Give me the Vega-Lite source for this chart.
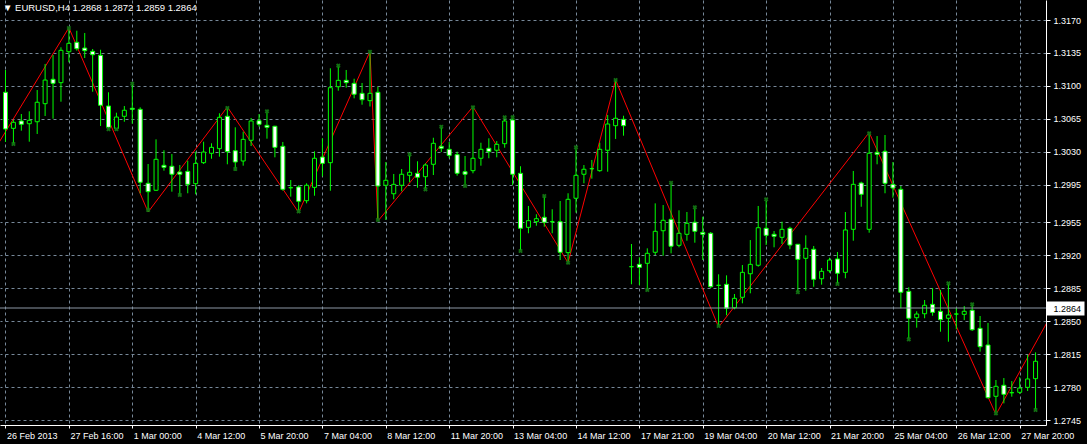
{
  "$schema": "https://vega.github.io/schema/vega-lite/v6.json",
  "width": 1046,
  "height": 425,
  "autosize": {"type": "none"},
  "padding": {"left": 0, "top": 0, "right": 41, "bottom": 19},
  "background": "#000000",
  "config": {"view": {"stroke": null}, "font": "Liberation Sans"},
  "title": {"text": "▼ EURUSD,H4  1.2868 1.2872 1.2859 1.2864", "anchor": "start", "frame": "group", "orient": "top", "offset": -12, "dx": 3, "fontSize": 9.5, "fontWeight": "normal", "color": "#ffffff", "font": "Liberation Sans"},
  "datasets": {
    "candles": [
      {"bar":0,"open":1.30932,"high":1.31169,"low":1.30404,"close":1.30542},
      {"bar":1,"open":1.30549,"high":1.30638,"low":1.30372,"close":1.30613},
      {"bar":2,"open":1.30627,"high":1.30701,"low":1.30524,"close":1.30592},
      {"bar":3,"open":1.30598,"high":1.30730,"low":1.30407,"close":1.30634},
      {"bar":4,"open":1.30619,"high":1.30956,"low":1.30489,"close":1.30826},
      {"bar":5,"open":1.30811,"high":1.31233,"low":1.30680,"close":1.31062},
      {"bar":6,"open":1.31070,"high":1.31328,"low":1.30651,"close":1.31027},
      {"bar":7,"open":1.31034,"high":1.31410,"low":1.30832,"close":1.31378},
      {"bar":8,"open":1.31363,"high":1.31618,"low":1.31251,"close":1.31452},
      {"bar":9,"open":1.31463,"high":1.31586,"low":1.31374,"close":1.31395},
      {"bar":10,"open":1.31402,"high":1.31562,"low":1.31296,"close":1.31374},
      {"bar":11,"open":1.31367,"high":1.31392,"low":1.30938,"close":1.31331},
      {"bar":12,"open":1.31325,"high":1.31384,"low":1.30574,"close":1.30794},
      {"bar":13,"open":1.30786,"high":1.30932,"low":1.30539,"close":1.30560},
      {"bar":14,"open":1.30545,"high":1.30715,"low":1.30528,"close":1.30669},
      {"bar":15,"open":1.30677,"high":1.30786,"low":1.30619,"close":1.30741},
      {"bar":16,"open":1.30762,"high":1.31041,"low":1.30598,"close":1.30751},
      {"bar":17,"open":1.30751,"high":1.30772,"low":1.29859,"close":1.29976},
      {"bar":18,"open":1.29965,"high":1.30170,"low":1.29660,"close":1.29876},
      {"bar":19,"open":1.29891,"high":1.30432,"low":1.29883,"close":1.30220},
      {"bar":20,"open":1.30156,"high":1.30316,"low":1.30099,"close":1.30135},
      {"bar":21,"open":1.30146,"high":1.30276,"low":1.29876,"close":1.30061},
      {"bar":22,"open":1.30085,"high":1.30159,"low":1.29841,"close":1.30061},
      {"bar":23,"open":1.30092,"high":1.30205,"low":1.29859,"close":1.29954},
      {"bar":24,"open":1.29961,"high":1.30301,"low":1.29848,"close":1.30177},
      {"bar":25,"open":1.30184,"high":1.30407,"low":1.30170,"close":1.30297},
      {"bar":26,"open":1.30284,"high":1.30390,"low":1.30226,"close":1.30347},
      {"bar":27,"open":1.30333,"high":1.30709,"low":1.30248,"close":1.30666},
      {"bar":28,"open":1.30677,"high":1.30776,"low":1.30167,"close":1.30301},
      {"bar":29,"open":1.30311,"high":1.30560,"low":1.30099,"close":1.30191},
      {"bar":30,"open":1.30202,"high":1.30513,"low":1.30152,"close":1.30432},
      {"bar":31,"open":1.30422,"high":1.30659,"low":1.30361,"close":1.30627},
      {"bar":32,"open":1.30630,"high":1.30701,"low":1.30566,"close":1.30592},
      {"bar":33,"open":1.30581,"high":1.30722,"low":1.30439,"close":1.30560},
      {"bar":34,"open":1.30571,"high":1.30576,"low":1.30241,"close":1.30347},
      {"bar":35,"open":1.30358,"high":1.30404,"low":1.29886,"close":1.29901},
      {"bar":36,"open":1.29918,"high":1.30000,"low":1.29823,"close":1.29918},
      {"bar":37,"open":1.29926,"high":1.29944,"low":1.29655,"close":1.29774},
      {"bar":38,"open":1.29780,"high":1.29965,"low":1.29752,"close":1.29944},
      {"bar":39,"open":1.29922,"high":1.30305,"low":1.29833,"close":1.30231},
      {"bar":40,"open":1.30244,"high":1.30443,"low":1.30039,"close":1.30177},
      {"bar":41,"open":1.30184,"high":1.31187,"low":1.29886,"close":1.30981},
      {"bar":42,"open":1.30991,"high":1.31204,"low":1.30949,"close":1.31059},
      {"bar":43,"open":1.31059,"high":1.31169,"low":1.30981,"close":1.31034},
      {"bar":44,"open":1.31027,"high":1.31076,"low":1.30868,"close":1.30911},
      {"bar":45,"open":1.30921,"high":1.31031,"low":1.30800,"close":1.30853},
      {"bar":46,"open":1.30843,"high":1.31365,"low":1.30781,"close":1.30921},
      {"bar":47,"open":1.30932,"high":1.30991,"low":1.29564,"close":1.29936},
      {"bar":48,"open":1.29944,"high":1.30191,"low":1.29575,"close":1.29997},
      {"bar":49,"open":1.29854,"high":1.30064,"low":1.29795,"close":1.29954},
      {"bar":50,"open":1.29944,"high":1.30117,"low":1.29880,"close":1.30061},
      {"bar":51,"open":1.30050,"high":1.30279,"low":1.29976,"close":1.30082},
      {"bar":52,"open":1.30071,"high":1.30199,"low":1.29918,"close":1.30029},
      {"bar":53,"open":1.30035,"high":1.30177,"low":1.29894,"close":1.30159},
      {"bar":54,"open":1.30167,"high":1.30449,"low":1.30053,"close":1.30390},
      {"bar":55,"open":1.30358,"high":1.30577,"low":1.30297,"close":1.30337},
      {"bar":56,"open":1.30326,"high":1.30404,"low":1.30231,"close":1.30262},
      {"bar":57,"open":1.30269,"high":1.30301,"low":1.30046,"close":1.30071},
      {"bar":58,"open":1.30088,"high":1.30255,"low":1.29929,"close":1.30061},
      {"bar":59,"open":1.30099,"high":1.30779,"low":1.30071,"close":1.30231},
      {"bar":60,"open":1.30231,"high":1.30396,"low":1.30152,"close":1.30326},
      {"bar":61,"open":1.30337,"high":1.30443,"low":1.30231,"close":1.30301},
      {"bar":62,"open":1.30316,"high":1.30414,"low":1.30241,"close":1.30379},
      {"bar":63,"open":1.30386,"high":1.30673,"low":1.30343,"close":1.30627},
      {"bar":64,"open":1.30638,"high":1.30683,"low":1.29947,"close":1.30061},
      {"bar":65,"open":1.30071,"high":1.30146,"low":1.29238,"close":1.29487},
      {"bar":66,"open":1.29497,"high":1.29724,"low":1.29434,"close":1.29568},
      {"bar":67,"open":1.29557,"high":1.29636,"low":1.29514,"close":1.29589},
      {"bar":68,"open":1.29604,"high":1.29823,"low":1.29504,"close":1.29551},
      {"bar":69,"open":1.29557,"high":1.29689,"low":1.29434,"close":1.29557},
      {"bar":70,"open":1.29557,"high":1.29777,"low":1.29150,"close":1.29232},
      {"bar":71,"open":1.29228,"high":1.29859,"low":1.29121,"close":1.29795},
      {"bar":72,"open":1.29806,"high":1.30354,"low":1.29653,"close":1.30050},
      {"bar":73,"open":1.30061,"high":1.30159,"low":1.29965,"close":1.30114},
      {"bar":74,"open":1.30120,"high":1.30213,"low":1.30014,"close":1.30120},
      {"bar":75,"open":1.30099,"high":1.30396,"low":1.30088,"close":1.30326},
      {"bar":76,"open":1.30316,"high":1.30691,"low":1.30088,"close":1.30595},
      {"bar":77,"open":1.30577,"high":1.31063,"low":1.30436,"close":1.30656},
      {"bar":78,"open":1.30645,"high":1.30683,"low":1.30471,"close":1.30577},
      {"bar":79,"open":1.29079,"high":1.29320,"low":1.28892,"close":1.29079},
      {"bar":80,"open":1.29104,"high":1.29179,"low":1.28884,"close":1.29072},
      {"bar":81,"open":1.29115,"high":1.29274,"low":1.28831,"close":1.29221},
      {"bar":82,"open":1.29232,"high":1.29752,"low":1.29203,"close":1.29455},
      {"bar":83,"open":1.29461,"high":1.29734,"low":1.29196,"close":1.29572},
      {"bar":84,"open":1.29582,"high":1.29979,"low":1.29221,"close":1.29296},
      {"bar":85,"open":1.29306,"high":1.29678,"low":1.29285,"close":1.29434},
      {"bar":86,"open":1.29423,"high":1.29660,"low":1.29355,"close":1.29540},
      {"bar":87,"open":1.29551,"high":1.29724,"low":1.29334,"close":1.29455},
      {"bar":88,"open":1.29444,"high":1.29610,"low":1.29150,"close":1.29423},
      {"bar":89,"open":1.29434,"high":1.29447,"low":1.28852,"close":1.28866},
      {"bar":90,"open":1.28881,"high":1.28998,"low":1.28438,"close":1.28881},
      {"bar":91,"open":1.28892,"high":1.28987,"low":1.28562,"close":1.28637},
      {"bar":92,"open":1.28643,"high":1.28789,"low":1.28626,"close":1.28743},
      {"bar":93,"open":1.28754,"high":1.29097,"low":1.28690,"close":1.29019},
      {"bar":94,"open":1.29004,"high":1.29362,"low":1.28796,"close":1.29104},
      {"bar":95,"open":1.29094,"high":1.29724,"low":1.29079,"close":1.29493},
      {"bar":96,"open":1.29487,"high":1.29806,"low":1.29309,"close":1.29412},
      {"bar":97,"open":1.29423,"high":1.29458,"low":1.29285,"close":1.29402},
      {"bar":98,"open":1.29391,"high":1.29557,"low":1.29320,"close":1.29476},
      {"bar":99,"open":1.29487,"high":1.29504,"low":1.29264,"close":1.29309},
      {"bar":100,"open":1.29317,"high":1.29320,"low":1.28799,"close":1.29157},
      {"bar":101,"open":1.29168,"high":1.29412,"low":1.28824,"close":1.29274},
      {"bar":102,"open":1.29264,"high":1.29299,"low":1.28866,"close":1.28945},
      {"bar":103,"open":1.28951,"high":1.29065,"low":1.28888,"close":1.29030},
      {"bar":104,"open":1.29036,"high":1.29174,"low":1.29015,"close":1.29150},
      {"bar":105,"open":1.29161,"high":1.29235,"low":1.28892,"close":1.29009},
      {"bar":106,"open":1.29019,"high":1.29660,"low":1.28956,"close":1.29469},
      {"bar":107,"open":1.29476,"high":1.30096,"low":1.29355,"close":1.29954},
      {"bar":108,"open":1.29968,"high":1.29982,"low":1.29716,"close":1.29848},
      {"bar":109,"open":1.29476,"high":1.30505,"low":1.29440,"close":1.30284},
      {"bar":110,"open":1.30294,"high":1.30467,"low":1.30167,"close":1.30273},
      {"bar":111,"open":1.30305,"high":1.30478,"low":1.29859,"close":1.29965},
      {"bar":112,"open":1.29954,"high":1.30191,"low":1.29812,"close":1.29915},
      {"bar":113,"open":1.29901,"high":1.29936,"low":1.28637,"close":1.28807},
      {"bar":114,"open":1.28817,"high":1.28860,"low":1.28300,"close":1.28531},
      {"bar":115,"open":1.28537,"high":1.28605,"low":1.28431,"close":1.28576},
      {"bar":116,"open":1.28579,"high":1.28725,"low":1.28531,"close":1.28669},
      {"bar":117,"open":1.28679,"high":1.28852,"low":1.28558,"close":1.28594},
      {"bar":118,"open":1.28605,"high":1.28831,"low":1.28388,"close":1.28516},
      {"bar":119,"open":1.28531,"high":1.28895,"low":1.28282,"close":1.28566},
      {"bar":120,"open":1.28576,"high":1.28640,"low":1.28414,"close":1.28576},
      {"bar":121,"open":1.28573,"high":1.28661,"low":1.28512,"close":1.28605},
      {"bar":122,"open":1.28616,"high":1.28672,"low":1.28396,"close":1.28409},
      {"bar":123,"open":1.28424,"high":1.28555,"low":1.28176,"close":1.28229},
      {"bar":124,"open":1.28247,"high":1.28481,"low":1.27678,"close":1.27687},
      {"bar":125,"open":1.27702,"high":1.27875,"low":1.27508,"close":1.27808},
      {"bar":126,"open":1.27819,"high":1.27896,"low":1.27627,"close":1.27723},
      {"bar":127,"open":1.27740,"high":1.27864,"low":1.27698,"close":1.27740},
      {"bar":128,"open":1.27744,"high":1.27904,"low":1.27726,"close":1.27790},
      {"bar":129,"open":1.27797,"high":1.28141,"low":1.27758,"close":1.27886},
      {"bar":130,"open":1.27889,"high":1.28169,"low":1.27556,"close":1.28074}
    ],
    "zigzag": [
      {"bar":-2,"price":1.30236},
      {"bar":8,"price":1.31618},
      {"bar":18,"price":1.29660},
      {"bar":28,"price":1.30776},
      {"bar":37,"price":1.29655},
      {"bar":46,"price":1.31365},
      {"bar":47,"price":1.29564},
      {"bar":59,"price":1.30779},
      {"bar":71,"price":1.29121},
      {"bar":77,"price":1.31063},
      {"bar":90,"price":1.28438},
      {"bar":109,"price":1.30505},
      {"bar":125,"price":1.27508},
      {"bar":132,"price":1.28571}
    ],
    "fractals": [
      {"bar":8,"price":1.31615},{"bar":16,"price":1.31023},{"bar":28,"price":1.30765},{"bar":33,"price":1.30730},
      {"bar":42,"price":1.31215},{"bar":46,"price":1.31363},{"bar":51,"price":1.30273},{"bar":55,"price":1.30566},
      {"bar":59,"price":1.30772},{"bar":63,"price":1.30666},{"bar":64,"price":1.30666},{"bar":68,"price":1.29830},
      {"bar":72,"price":1.30347},{"bar":77,"price":1.31063},{"bar":84,"price":1.29971},{"bar":87,"price":1.29710},
      {"bar":96,"price":1.29795},{"bar":109,"price":1.30496},{"bar":119,"price":1.28902},{"bar":122,"price":1.28679},
      {"bar":1,"price":1.30383},{"bar":13,"price":1.30539},{"bar":14,"price":1.30539},{"bar":18,"price":1.29681},
      {"bar":22,"price":1.29841},{"bar":29,"price":1.30117},{"bar":37,"price":1.29667},{"bar":47,"price":1.29575},
      {"bar":53,"price":1.29901},{"bar":58,"price":1.29936},{"bar":65,"price":1.29246},{"bar":71,"price":1.29121},
      {"bar":81,"price":1.28831},{"bar":90,"price":1.28449},{"bar":100,"price":1.28807},{"bar":105,"price":1.28895},
      {"bar":114,"price":1.28307},{"bar":125,"price":1.27521},{"bar":130,"price":1.27556}
    ],
    "bid": [{"price": 1.2864}]
  },
  "layer": [
    {
      "data": {"name": "zigzag"},
      "mark": {"type": "line", "color": "#ff0000", "strokeWidth": 1, "clip": true},
      "encoding": {
        "x": {
          "field": "bar", "type": "quantitative",
          "scale": {"domain": [-0.0625, 130.6875], "nice": false, "zero": false},
          "axis": {
            "orient": "bottom", "title": null,
            "values": [0,4,8,12,16,20,24,28,32,36,40,44,48,52,56,60,64,68,72,76,80,84,88,92,96,100,104,108,112,116,120,124,128],
            "labelExpr": "datum.value % 8 === 0 ? ['26 Feb 2013','27 Feb 16:00','1 Mar 00:00','4 Mar 12:00','5 Mar 20:00','7 Mar 04:00','8 Mar 12:00','11 Mar 20:00','13 Mar 04:00','14 Mar 12:00','17 Mar 21:00','19 Mar 04:00','20 Mar 12:00','21 Mar 20:00','25 Mar 04:00','26 Mar 12:00','27 Mar 20:00'][datum.value / 8] : ''",
            "labelAlign": "left", "labelBaseline": "top", "labelPadding": 3, "labelOffset": 1,
            "labelColor": "#ffffff", "labelFont": "Liberation Sans", "labelFontSize": 9,
            "labelOverlap": false, "labelBound": false, "labelFlush": false,
            "tickColor": "#ffffff", "tickSize": 3, "tickWidth": 1,
            "domainColor": "#ffffff", "domainWidth": 1,
            "grid": true, "gridColor": "#778899", "gridDash": [3, 3], "gridWidth": 1
          }
        },
        "y": {
          "field": "price", "type": "quantitative",
          "scale": {"domain": [1.27397, 1.319125], "nice": false, "zero": false},
          "axis": {
            "orient": "right", "title": null,
            "values": [1.2745, 1.278, 1.2815, 1.285, 1.2885, 1.292, 1.2955, 1.2995, 1.303, 1.3065, 1.31, 1.3135, 1.317],
            "format": ".4f",
            "labelColor": "#ffffff", "labelFont": "Liberation Sans", "labelFontSize": 9, "labelPadding": 3,
            "labelOverlap": false, "labelBound": false, "labelFlush": false,
            "tickColor": "#ffffff", "tickSize": 4, "tickWidth": 1,
            "domainColor": "#ffffff", "domainWidth": 1,
            "grid": true, "gridColor": "#778899", "gridDash": [3, 3], "gridWidth": 1
          }
        }
      }
    },
    {
      "data": {"name": "candles"},
      "mark": {"type": "rule", "color": "#00ff00", "strokeWidth": 1},
      "encoding": {
        "x": {"field": "bar", "type": "quantitative", "scale": {"domain": [-0.0625, 130.6875], "nice": false, "zero": false}},
        "y": {"field": "high", "type": "quantitative", "scale": {"domain": [1.27397, 1.319125], "nice": false, "zero": false}, "axis": null},
        "y2": {"field": "low"}
      }
    },
    {
      "data": {"name": "candles"},
      "mark": {"type": "bar", "size": 4, "stroke": "#00ff00", "strokeWidth": 1},
      "encoding": {
        "x": {"field": "bar", "type": "quantitative", "scale": {"domain": [-0.0625, 130.6875], "nice": false, "zero": false}},
        "y": {"field": "open", "type": "quantitative", "scale": {"domain": [1.27397, 1.319125], "nice": false, "zero": false}, "axis": null},
        "y2": {"field": "close"},
        "fill": {"condition": {"test": "datum.close < datum.open", "value": "#ffffff"}, "value": "#000000"}
      }
    },
    {
      "data": {"name": "fractals"},
      "mark": {"type": "point", "shape": "cross", "angle": 45, "filled": true, "size": 22, "color": "#137013", "opacity": 1},
      "encoding": {
        "x": {"field": "bar", "type": "quantitative", "scale": {"domain": [-0.0625, 130.6875], "nice": false, "zero": false}},
        "y": {"field": "price", "type": "quantitative", "scale": {"domain": [1.27397, 1.319125], "nice": false, "zero": false}, "axis": null}
      }
    },
    {
      "data": {"name": "bid"},
      "mark": {"type": "rule", "color": "#8c97a5", "strokeWidth": 1},
      "encoding": {
        "y": {
          "field": "price", "type": "quantitative",
          "scale": {"domain": [1.27397, 1.319125], "nice": false, "zero": false},
          "axis": {
            "orient": "right", "title": null, "values": [1.2864], "format": ".4f",
            "domain": false, "grid": false,
            "tickColor": "#ffffff", "tickSize": 38, "tickWidth": 14,
            "labelPadding": -31, "labelAlign": "left", "labelColor": "#000000",
            "labelFont": "Liberation Sans", "labelFontSize": 9,
            "labelOverlap": false, "labelBound": false, "labelFlush": false
          }
        }
      }
    }
  ],
  "resolve": {"axis": {"y": "independent"}}
}
